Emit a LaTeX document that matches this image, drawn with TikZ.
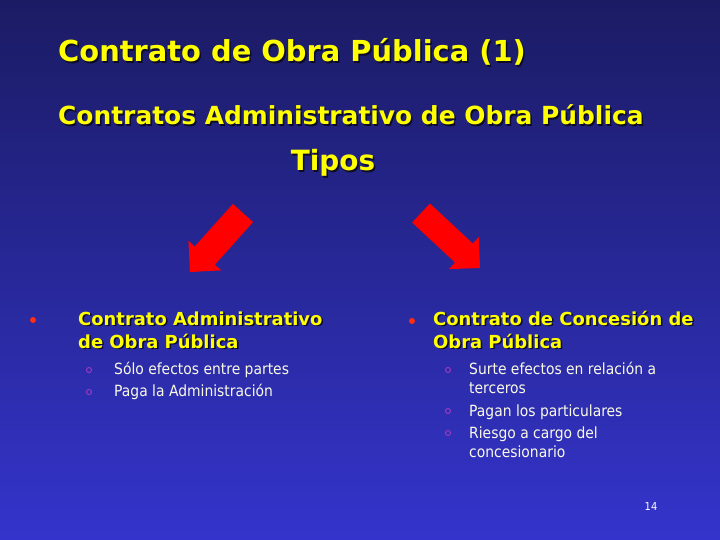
\documentclass[tikz,border=0pt]{standalone}
\usepackage{fontspec}
\setmainfont{DejaVu Sans}[FakeStretch=0.9,BoldFeatures={FakeStretch=1.0}]
\usepackage{xcolor}
\usepackage{tikz}

\definecolor{slidetop}{RGB}{27,27,100}
\definecolor{slidebot}{RGB}{52,52,204}
\definecolor{titleyel}{RGB}{255,255,0}
\definecolor{shadowc}{RGB}{12,12,40}
\definecolor{itemtxt}{RGB}{250,250,228}
\definecolor{subdot}{RGB}{180,60,190}
\definecolor{bulred}{RGB}{255,45,20}
\definecolor{arrred}{RGB}{255,0,0}

\newcommand{\shad}[1]{\rlap{\kern1.5pt\raisebox{-1.5pt}{\color{shadowc}#1}}#1}

\begin{document}
\begin{tikzpicture}[x=1bp,y=-1bp,
    ttl/.style={anchor=base west,inner sep=0pt,text=titleyel,
                font=\bfseries\fontsize{29}{35}\selectfont},
    item/.style={anchor=base west,inner sep=0pt,align=left,text=titleyel,
                 font=\bfseries\fontsize{18}{23}\selectfont},
    subitem/.style={anchor=base west,inner sep=0pt,align=left,text=itemtxt,
                    font=\fontsize{15.5}{19.5}\selectfont},
    mainbul/.style={circle,fill=bulred,inner sep=0pt,minimum size=6bp},
    subbul/.style={circle,draw=subdot,line width=0.8bp,inner sep=0pt,minimum size=5bp}]
        \shade [top color=slidetop, bottom color=slidebot] (0,0) rectangle (720,540);
        \useasboundingbox (0,0) rectangle (720,540);
        \node [ttl] (title) at (58,62) {\shad{Contrato de Obra Pública (1)}};
        \node [ttl, font=\bfseries\fontsize{25}{30}\selectfont] (subtitle) at (58,125)
              {\shad{Contratos Administrativo de Obra Pública}};
        \node [ttl, anchor=base, font=\bfseries\fontsize{28}{33}\selectfont] (tipos) at (333,171)
              {\shad{Tipos}};
        \fill [arrred] (253.1,222.1) -- (214.9,264.7) -- (221.4,270.4) -- (190,272)
              -- (188.4,240.8) -- (194.7,246.5) -- (232.9,203.9) -- cycle;   %left
        \fill [arrred] (412.1,222.5) -- (455.0,262.5) -- (448.9,269.1) -- (480,268)
              -- (478.9,236.9) -- (472.8,243.5) -- (429.9,203.5) -- cycle;   %right
        % left column
        \node [mainbul] (bA) at (33,320) {};
        \node [item] (adm) at (78,348) {\shad{Contrato Administrativo}\\\shad{de Obra Pública}};
        \node [subbul] (bA1) at (89,370) {};
        \node [subitem] (adm1) at (114,374) {Sólo efectos entre partes};
        \node [subbul] (bA2) at (89,392) {};
        \node [subitem] (adm2) at (114,396) {Paga la Administración};
        % right column
        \node [mainbul] (bC) at (412,321) {};
        \node [item] (conc) at (433,348) {\shad{Contrato de Concesión de}\\\shad{Obra Pública}};
        \node [subbul] (bC1) at (448,370) {};
        \node [subitem] (conc1) at (469,393.5) {Surte efectos en relación a\\terceros};
        \node [subbul] (bC2) at (448,411) {};
        \node [subitem] (conc2) at (469,416) {Pagan los particulares};
        \node [subbul] (bC3) at (448,433) {};
        \node [subitem] (conc3) at (469,457.5) {Riesgo a cargo del\\concesionario};
        \node [anchor=base, inner sep=0pt, text=white, font=\fontsize{11}{13}\selectfont]
              (page) at (651,510) {14};
\end{tikzpicture}
\end{document}
